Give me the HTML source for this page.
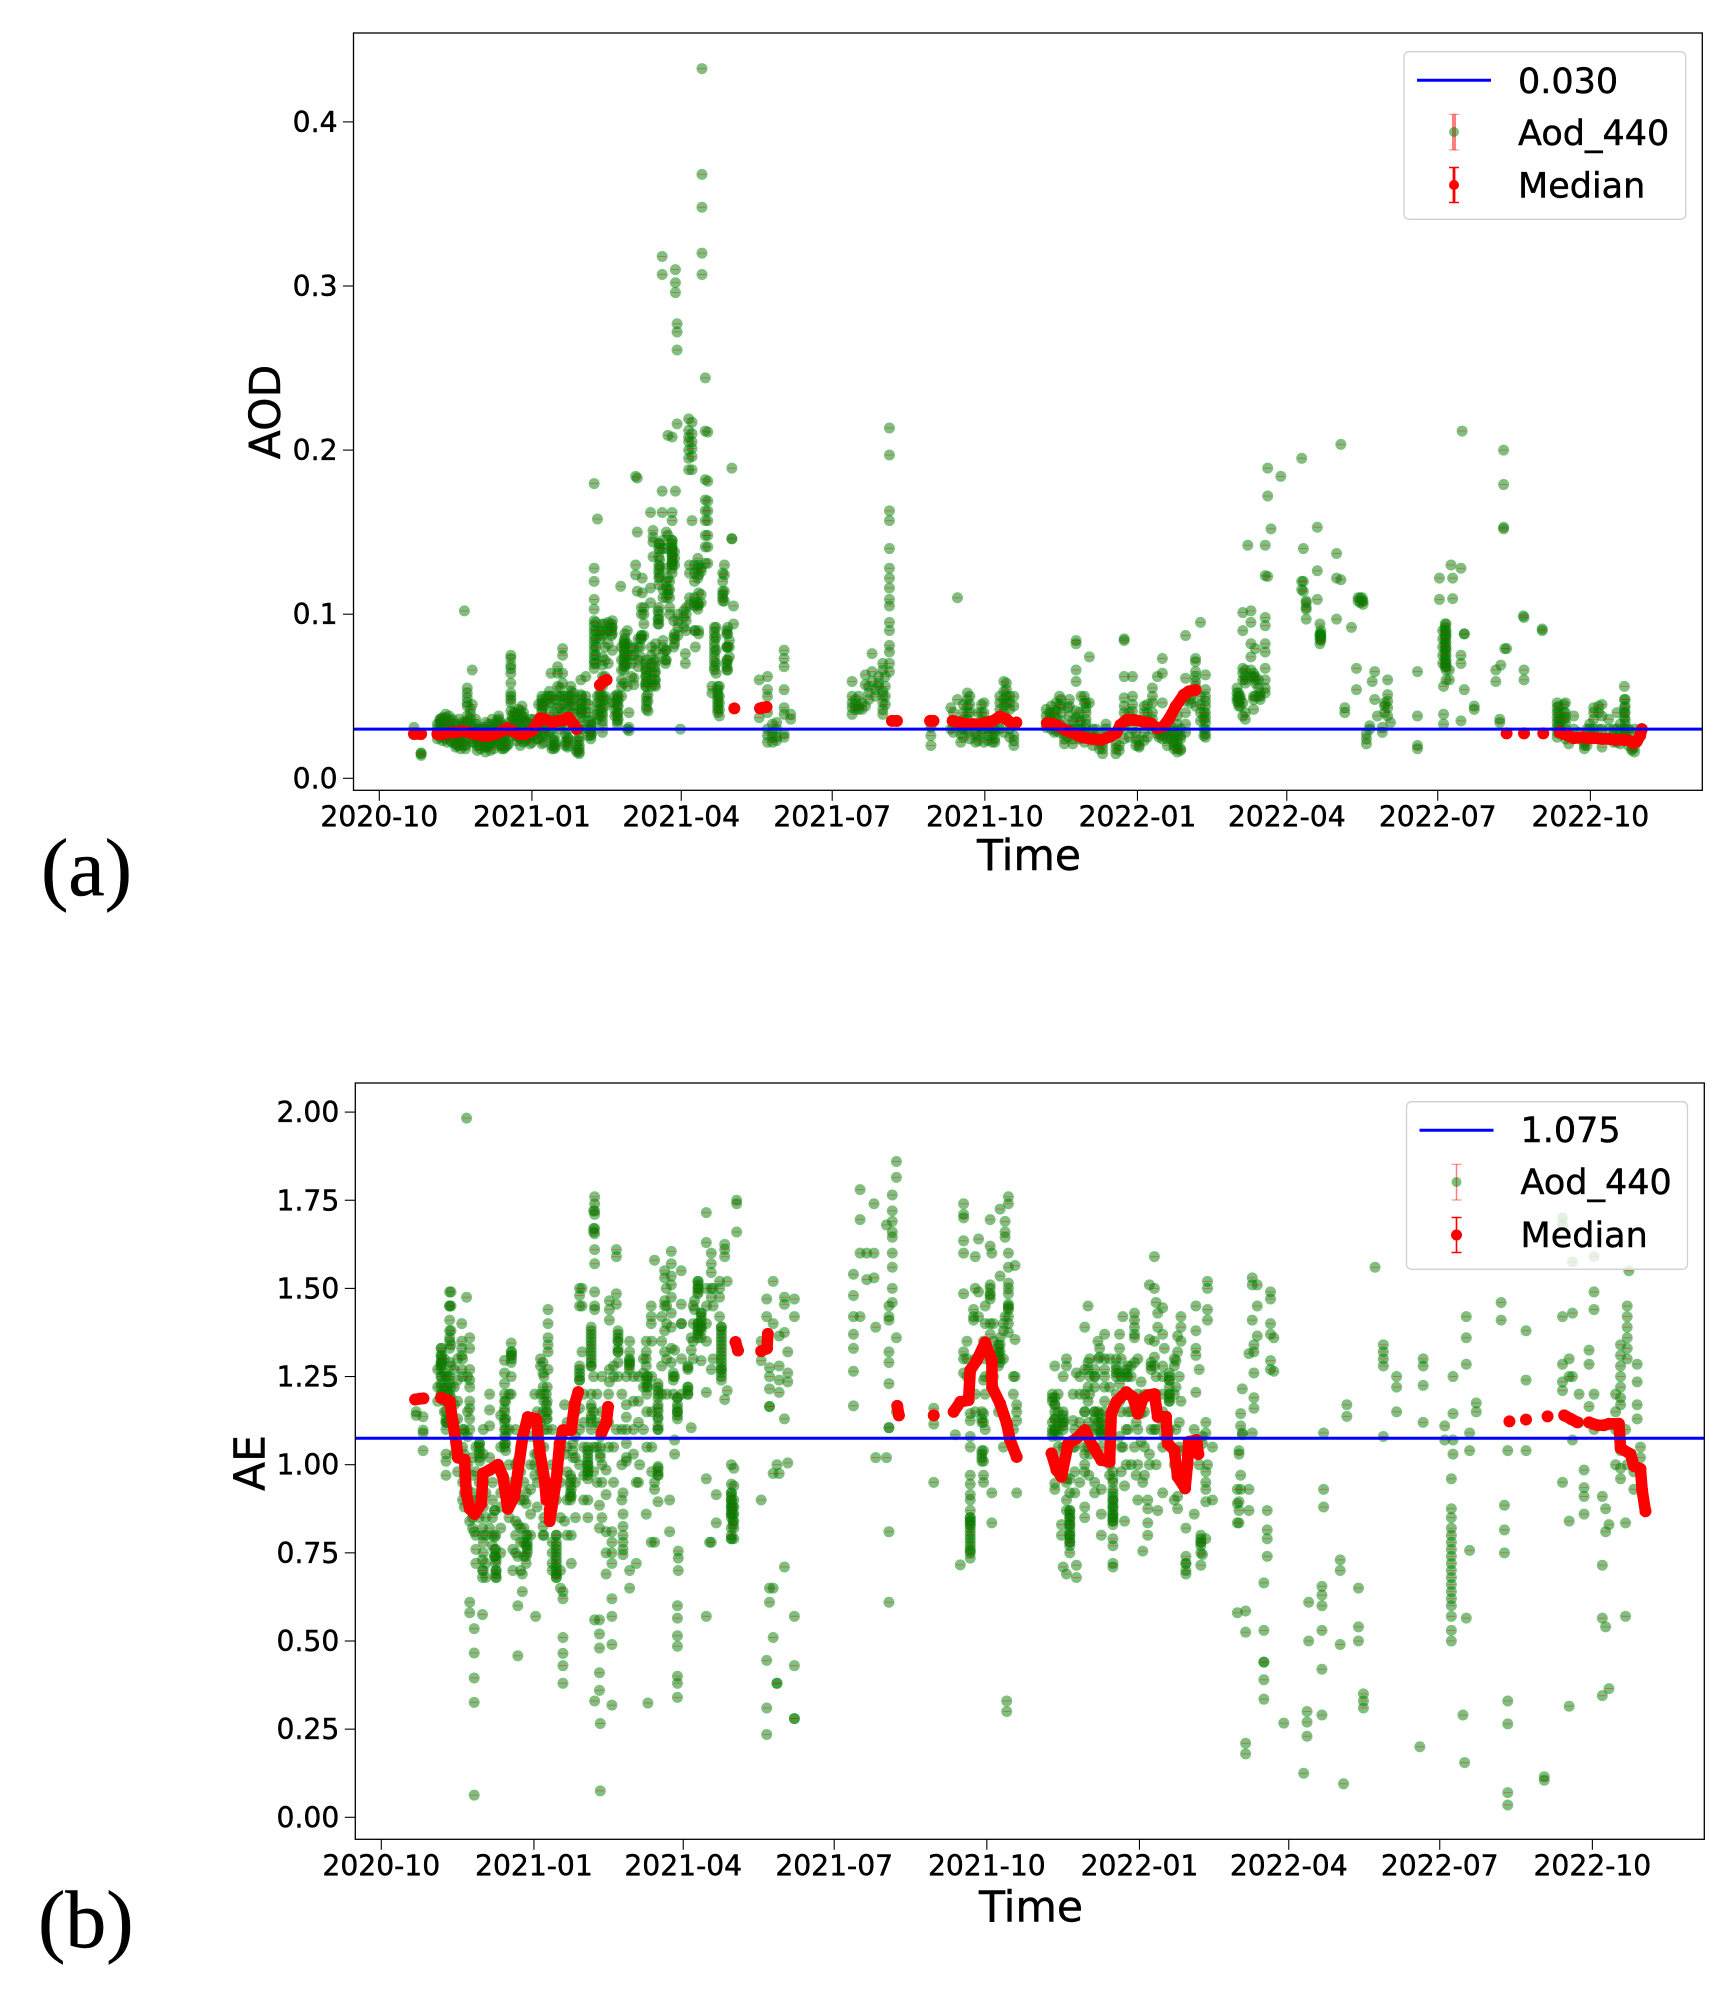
<!DOCTYPE html>
<html lang="en">
<head>
<meta charset="utf-8">
<title>AOD and AE time series</title>
<style>
html,body{margin:0;padding:0;background:#fff;}
svg{display:block;font-family:"DejaVu Sans","Liberation Sans",sans-serif;}
svg text{stroke:#000;stroke-width:0.45px;}
.serif{font-family:"Liberation Serif","DejaVu Serif",serif;}
</style>
</head>
<body>
<svg id="figure" xmlns="http://www.w3.org/2000/svg" width="1733" height="1995" viewBox="0 0 1733 1995">
  <rect x="0" y="0" width="1733" height="1995" fill="#fff"/>
  <g id="panel-a"></g>
  <g id="panel-b"></g>

  <text class="serif" x="41" y="895" font-size="82">(a)</text>
  <text class="serif" x="38" y="1947" font-size="82">(b)</text>
  <text x="1029" y="870" font-size="42.5" text-anchor="middle">Time</text>
  <text x="1031" y="1921.5" font-size="42.5" text-anchor="middle">Time</text>
  <text transform="translate(280 412) rotate(-90)" font-size="42.5" text-anchor="middle">AOD</text>
  <text transform="translate(264.5 1463) rotate(-90)" font-size="42.5" text-anchor="middle">AE</text>

  <g>
    <rect x="1404" y="51.7" width="281.7" height="167.6" rx="5" fill="#fff" fill-opacity="0.8" stroke="#d0d0d0" stroke-width="1.3"/>
    <line x1="1417" x2="1491" y1="80.3" y2="80.3" stroke="#0000ff" stroke-width="3"/>
    <text x="1518" y="93" font-size="35">0.030</text>
    <g>
      <line x1="1454" x2="1454" y1="114.3" y2="150" stroke="#ff0000" stroke-opacity="0.5" stroke-width="4"/>
      <line x1="1449" x2="1459" y1="114.3" y2="114.3" stroke="#ff0000" stroke-opacity="0.5" stroke-width="1"/>
      <line x1="1449" x2="1459" y1="150" y2="150" stroke="#ff0000" stroke-opacity="0.5" stroke-width="1"/>
      <circle cx="1454" cy="132" r="5" fill="#008000" fill-opacity="0.5"/>
    </g>
    <text x="1518" y="145" font-size="35">Aod_440</text>
    <g>
      <line x1="1454" x2="1454" y1="167" y2="203" stroke="#ff0000" stroke-width="2.8"/>
      <line x1="1449" x2="1459" y1="167.5" y2="167.5" stroke="#ff0000" stroke-width="1.5"/>
      <line x1="1449" x2="1459" y1="202.5" y2="202.5" stroke="#ff0000" stroke-width="1.5"/>
      <circle cx="1454" cy="185" r="5" fill="#ff0000"/>
    </g>
    <text x="1518" y="197.5" font-size="35">Median</text>
  </g>

  <g>
    <rect x="1406.5" y="1101.7" width="281" height="167.6" rx="5" fill="#fff" fill-opacity="0.8" stroke="#d0d0d0" stroke-width="1.3"/>
    <line x1="1419.5" x2="1493.5" y1="1130.3" y2="1130.3" stroke="#0000ff" stroke-width="3"/>
    <text x="1520.5" y="1142" font-size="35">1.075</text>
    <g>
      <line x1="1456.5" x2="1456.5" y1="1164.3" y2="1200" stroke="#ff0000" stroke-opacity="0.5" stroke-width="1.5"/>
      <line x1="1451.5" x2="1461.5" y1="1164.3" y2="1164.3" stroke="#ff0000" stroke-opacity="0.5" stroke-width="1"/>
      <line x1="1451.5" x2="1461.5" y1="1200" y2="1200" stroke="#ff0000" stroke-opacity="0.5" stroke-width="1"/>
      <circle cx="1456.5" cy="1182" r="5" fill="#008000" fill-opacity="0.5"/>
    </g>
    <text x="1520.5" y="1194" font-size="35">Aod_440</text>
    <g>
      <line x1="1456.5" x2="1456.5" y1="1217" y2="1253" stroke="#ff0000" stroke-width="1.6"/>
      <line x1="1451.5" x2="1461.5" y1="1217.5" y2="1217.5" stroke="#ff0000" stroke-width="1.5"/>
      <line x1="1451.5" x2="1461.5" y1="1252.5" y2="1252.5" stroke="#ff0000" stroke-width="1.5"/>
      <circle cx="1456.5" cy="1235" r="5.5" fill="#ff0000"/>
    </g>
    <text x="1520.5" y="1247" font-size="35">Median</text>
  </g>
</svg>

<script>
// ---- shared axis data ----
const xTickDays = [0, 92, 182, 273, 365, 457, 547, 638, 730];
const xTickLabels = ['2020-10','2021-01','2021-04','2021-07','2021-10','2022-01','2022-04','2022-07','2022-10'];
const aodTickValues = [0, 0.1, 0.2, 0.3, 0.4];
const aodTickLabels = ['0.0','0.1','0.2','0.3','0.4'];
const aeTickValues = [0, 0.25, 0.5, 0.75, 1, 1.25, 1.5, 1.75, 2];
const aeTickLabels = ['0.00','0.25','0.50','0.75','1.00','1.25','1.50','1.75','2.00'];
const aodThreshold = [0.03];
const aeThreshold = [1.075];

// ---- AOD readings: each row is [day since 2020-10-01, value, value, ...] ----
const aodWinter2020 = [
[20.9,.031,.027],[25.2,.015,.014,.0155],
[35,.024,.027,.03,.033],[36.5,.025,.029,.034,.036],[38,.023,.027,.031,.035,.037],[40,.024,.028,.033,.037,.039],[42,.026,.03,.034,.038],[44,.022,.026,.03,.036],[46,.019,.021,.024,.029,.033],[48,.02,.023,.027,.032,.036],[50,.022,.026,.03,.034],[52,.018,.02,.024,.029,.034],
[51.3,.102],[53,.055,.052,.049,.046,.044,.038,.035],[56,.066,.045,.028,.032,.022],[58,.025,.029,.033,.036],[60,.02,.023,.026,.03],[62,.023,.027,.031],[64,.016,.019,.022,.03,.034],[66,.02,.024,.028,.033],[68,.021,.024,.03,.036],[70,.022,.026,.03,.033],[72,.023,.027,.032,.036,.038],[74,.018,.02,.024,.03],[76,.019,.022,.026,.03],[78,.021,.025,.03,.034],
[79.3,.075,.073,.069,.067,.064,.058,.052,.05,.048,.046,.041],[81,.028,.032,.036,.04],[83,.023,.027,.033,.038],[85,.02,.024,.03,.036,.041],[87,.022,.026,.031,.035,.04,.037],[89,.024,.029,.034],[91,.021,.025,.03,.036],[93,.026,.03,.033,.036],[95,.024,.028,.031],
[98,.05,.048,.046,.044,.042,.04,.037,.033,.025,.021],[100,.026,.03,.035],[102.5,.053,.05,.046,.04,.033,.028],[103.5,.064],[105.5,.025,.023,.02,.018,.04,.036],[107.5,.068,.064,.056,.05,.043,.037,.032],[110.5,.079,.075,.064,.058,.05,.045,.04,.034],[113.5,.025,.023,.019,.03],[115.5,.056,.053,.05,.047,.044,.04,.036],[120.5,.025,.023,.02,.018,.015,.016,.03],[121.5,.06,.051,.048,.045,.042,.04,.037,.034],[124.5,.062,.05,.046,.04],[127.5,.035,.032,.03,.028,.026,.024],
[129.5,.1796,.128,.12,.109,.103,.096,.093,.09,.087,.084,.081,.078,.075,.072,.07,.067],[131.5,.158,.05,.046,.042,.039,.036],[134.5,.094,.09,.087,.074,.069,.062,.056,.05,.047,.043,.04,.038,.035,.032,.028]
];
const aodDenseWinter2020 = [
[37,.03,.033,.036],[39,.026,.03,.034],[41,.022,.027,.03],[43,.023,.03,.035],[47,.02,.025,.03],[49,.018,.023],[51,.02,.028,.032],[55,.024,.03,.036,.039,.042],[57,.022,.026,.03],[59,.017,.02,.024],[61,.018,.025,.03],[63,.02,.03],[65,.019,.025],[67,.017,.022,.032],[69,.018,.024,.03],[71,.026,.03,.035],[73,.02,.028,.034],[75,.018,.025,.032],[77,.02,.028],[80,.03,.035,.038],[82,.026,.033,.04],[84,.025,.034,.042],[86,.027,.038,.044],[88,.023,.034],[90,.026,.03],[92,.022,.028],[94,.028,.032],[96,.024,.03,.036,.045],[99,.046,.044,.034,.028,.022],[101,.05,.048,.036],[104,.05,.046,.03,.024,.02,.018],[106,.021,.019,.048],[109,.055,.05,.043,.03],[112,.05,.046,.04,.027,.022,.02],[114,.05,.046,.024,.02],[117,.052,.048,.044,.04],[119,.023,.02,.017,.016],[122,.05,.046,.042,.04,.03],[126,.045,.04,.035,.03,.026],[128,.033,.03,.027]
];
const aodSpring2021 = [
[140.5,.096,.092,.088,.078,.046],[143.5,.051,.048,.044,.04,.038,.035,.033],[145.5,.117],[147.5,.084,.082,.078,.075,.072,.069,.066,.058],[149.5,.09],[150.5,.04,.031,.029],[153.5,.079,.075,.061,.057],[154.5,.13,.124,.184],[155.5,.183,.15,.114],[157.5,.085,.08,.074],[158.5,.122,.113],[159.5,.104,.1,.094,.087],[160.5,.07,.066,.062,.058,.056],[162,.051,.047,.041],[163.5,.116,.107,.162],[165,.151,.147,.144,.135],[166.5,.082,.078,.071,.065,.06,.056],[168,.102,.097,.094],[169,.143,.139,.133,.129,.123],[170.5,.318,.307,.175,.162],[172.5,.078,.072,.07],[174,.209,.148,.122,.115,.112],[176.5,.208,.162,.157,.145,.14,.136,.132,.13],[177.5,.096,.086,.08],[178.5,.175,.31,.302,.296],[179.5,.216,.277,.272,.261],[181.5,.03],[183.5,.102,.098,.092],[184.5,.076,.07],[186.5,.219,.212,.208,.205,.2,.195,.188],[188.5,.217,.21,.205,.201,.196,.188,.157],[190.5,.08,.09],[192.5,.13,.124,.113,.106,.09,.088],[194.5,.4325,.368,.348,.320,.307],[196.5,.244,.2116,.182,.1696,.163,.157,.148,.141,.131],[198,.211,.181,.169,.163,.157,.148,.141,.131],[203,.092,.086,.078,.07,.064],[200.5,.056,.052],[205,.056,.05,.046,.042,.038],[208,.13,.124,.114,.108],[210,.092,.088,.08,.072,.066],[212.5,.189,.146,.146],[213.5,.105,.094],
[229,.06,.037],[234,.062,.054,.05,.04,.03,.026,.022],[237,.033,.028,.025,.022],[239.5,.034,.03,.025,.023],[244,.078,.073,.068,.054,.043,.039,.027,.025],[248,.039,.036]
];
const aodDenseSpring2021 = [
[130.5,.095,.09,.085,.08,.075,.07],[133,.052,.05,.046,.042,.038,.09,.085],[136,.094,.088,.08,.072,.062,.05,.048,.044],[138,.095,.09,.082,.07],[140,.094,.092,.09,.087],[142,.05,.046,.042,.038],[144,.05,.047,.044,.04,.036],[146,.08,.072,.066,.06,.056,.05],[148,.088,.085,.082,.08,.077,.074,.07,.068],[149.5,.082,.075,.07,.056,.03],[152,.08,.075,.07,.062],[156,.085,.08,.072,.068],[158,.104,.1,.087,.087,.085],[161,.072,.068,.065,.062,.059,.056,.05,.047,.044,.042],[164,.08,.075,.07,.065,.06,.056],[166,.072,.068,.064,.06,.057],[168.5,.143,.14,.135,.13,.127,.125,.122,.118,.104,.1,.097,.094],[171,.145,.14,.115,.11,.084,.08,.076],[173,.15,.14,.128,.12,.116,.11,.078,.072],[175,.12,.115,.11,.104,.1],[176.5,.145,.143,.141,.139,.137,.135,.133,.131,.128,.125],[178,.088,.085,.082,.138,.134,.13],[180,.1,.096,.092,.087],[185,.104,.1,.096,.09],[187,.13,.125,.11,.106],[190,.13,.125,.12,.11,.107,.105,.09],[192,.134,.128,.122,.107,.105,.103],[194,.128,.126,.112,.107],[202,.092,.089,.086,.083,.08,.077,.074,.071,.068,.066],[204,.056,.054,.052,.05,.048,.046,.044,.042,.04],[207,.125,.12,.114,.112,.11,.108],[209.5,.09,.088,.08,.08,.072,.07,.068,.066],[211,.084,.08,.074]
];
const aodSummer2021 = [
[285,.059,.05,.046,.043,.039],[287,.048,.045,.042],[289,.05,.042,.044],[291,.046,.042],[293,.063,.057,.044],[295,.048,.056,.052],[297,.076,.065,.059],[299,.05,.054],[301,.056,.058,.062],[303.5,.053,.05,.046,.042,.039,.066,.07],[305,.045,.05,.056,.062],[307.5,.2135,.197,.163,.157,.14,.128,.122,.116,.109,.105,.095,.09,.081,.077,.07,.065],
[332.5,.031,.026,.02],[344.5,.043,.03],[348.5,.11,.048],[350.5,.031,.022,.027],[354.5,.052,.048,.044,.04,.036,.03],[359.5,.022,.027,.033],[364.5,.046,.04,.03,.022,.034],[369.5,.03,.026,.022],[376.5,.059,.053,.048,.044,.04,.028],[382.5,.05,.044,.026,.02,.023]
];
const aodDenseAutumn2021 = [
[346,.04,.035,.032,.028],[352,.045,.04,.036,.03,.025],[356,.05,.045,.04,.028,.024],[361,.04,.032,.026,.023],[363,.045,.04,.035,.028],[367,.035,.03,.026,.023],[371,.03,.028,.024,.022],[374,.05,.046,.042,.038,.034,.03],[378,.058,.054,.05,.046,.036],[380,.05,.046,.042,.03,.025]
];
const aodWinter2021 = [
[402,.042,.038,.034,.031],[405,.044,.04,.036,.03],[408,.046,.041,.037,.032,.029],[411,.048,.044,.04,.035,.03],[413,.027,.024,.021],[416,.048,.044,.038,.032,.028],[420,.084,.082,.066,.059,.041,.037,.03],[423,.05,.035,.03,.027],[426,.046,.043,.04,.036,.033,.03,.026],[428,.074,.046],[432,.03,.027,.024],[436,.021,.018,.015],[438,.033,.03,.027],[444,.021,.018,.015],[449,.085,.084,.062,.049,.044,.04,.035,.03,.024],[454,.062,.05,.045,.041,.036,.03],[458,.023,.02,.019],[461,.044,.04,.035,.028,.023],[466,.055,.05,.046,.04,.036,.03],[469,.062,.03,.027],[472,.073,.064,.046,.03,.026,.024],[477,.032,.029,.026,.024],[481,.038,.033,.029,.026,.023,.02,.018,.016],[486,.087,.061,.047,.04,.033,.028],[492,.073,.071,.065,.062,.059,.056,.044],[495,.095,.05,.045,.04,.035],[498,.063,.054,.05,.047,.044,.04,.037,.034,.03,.027,.025]
];
const aodDenseWinter2021 = [
[404,.04,.036,.034],[407,.04,.034,.028],[410,.05,.045,.033,.028],[415,.043,.03,.025],[418,.035,.03,.024,.021],[422,.04,.035,.03,.024],[425,.05,.046,.028,.022],[430,.03,.025,.02],[434,.022,.018],[446,.02,.017],[452,.04,.035,.025],[456,.028,.024,.02],[463,.045,.04,.035,.025],[470,.03,.028,.025],[475,.03,.027,.024,.02],[479,.026,.022,.02,.018],[483,.03,.026,.024,.018,.017],[489,.05,.048,.046],[497,.04,.036,.03,.026]
];
const aodSpring2022 = [
[517,.055,.049,.047,.052],[519,.044,.048,.05],[520.5,.101,.09,.067,.064,.06,.046,.038],[523.5,.142],[525.4,.102,.095,.082,.074,.066,.062],[528,.079,.058,.05,.062,.06],[531,.05,.048,.052],[534,.098,.093,.082,.077,.067,.06,.055,.052,.142,.1235],[535.5,.123,.189,.172],[537.5,.152],[543.4,.184],[556,.12,.115,.195],[557,.14,.12,.114],[558.7,.108,.104,.107,.103,.097],[565.4,.153,.1265,.109],[567,.094,.088,.087,.085,.082],[577,.137,.122,.097],[579.6,.2035,.121],[582,.043,.04],[586,.092],[589,.067,.054],[591.3,.11,.107],[592.5,.11,.108],[595,.027,.021,.024],[597,.032,.03],[598.5,.059],[600,.065,.048],[601.6,.038],[604.6,.031,.028],[607.8,.06,.051,.047,.043,.038],[609.5,.034],[625.8,.065,.038,.02,.018],
[639,.122,.109],[641.5,.056,.039,.033],[642.5,.094,.092,.09,.087,.085,.082,.079,.076,.073,.07,.068],[645,.066,.06],[646,.13],[647,.122,.1095],[652,.075,.07,.035,.128],[652.7,.2116],[654,.088,.088,.054],[660,.044,.042],[673,.066,.059],[675.4,.036,.034],[676,.069],[677.7,.2,.179,.153,.152],[678.4,.079],[679.5,.079],[689.6,.099],[690,.066,.06,.098],[701,.091,.09],
[710,.046,.043,.04,.037,.034,.031,.028,.025],[712,.035,.03,.027],[715,.046,.04,.037,.034,.03,.024],[717,.021,.025],[720,.038,.03],[723,.028,.024],[726.4,.024,.022,.02,.018],[729.6,.033,.03,.027,.024],[732,.043,.04,.036,.03,.026],[737,.045,.038,.03,.019],[741,.036,.03,.024],[744,.03,.026,.022],[748,.033,.029,.021],[750.5,.056,.048,.043,.04,.037,.03,.027],[753,.03,.024,.02],[756.6,.019,.016,.022,.03]
];
const aodDenseSpring2022 = [
[518,.052,.05,.048,.046,.044],[522,.066,.062,.06,.058,.04,.036],[527,.064,.062,.05,.048,.042],[530,.06,.055,.05],[567.5,.09,.088,.087,.086,.085,.084],[590,.11,.108],[593,.108,.106],[606,.046,.044,.04],[643,.094,.09,.088,.086,.083,.08,.078,.075,.072,.07,.068,.066,.06],[641,.09,.085,.08,.075,.07],[711,.044,.04,.036,.032,.028],[714,.045,.04,.036],[728,.03,.024,.02],[735,.044,.04,.03,.024],[746,.04,.03,.025,.022],[751,.048,.044,.04,.036,.033,.03,.028],[755,.028,.022,.018,.017]
];

// ---- AOD median readings (day and value listed in parallel) ----
const aodMedianDays = [20.9,25.2,35,38,42,46,50,54,58,62,66,70,74,77,80,84,88,92,95,97,100,104,108,111,114,117,119,133,135,137,214,229.5,231,233.4,309,312,332,334,345.6,350,354,358,362,366,370,374,378,381.6,384,402.4,405,409,413.5,418.4,423.3,429.5,435.6,440.5,444.2,446.7,450.4,455.3,460.2,465,468.8,472.5,476.2,480,484.8,488,492,679.5,690,701.6,711.6,714,717,720,725.6,729,733,737,741,745,749,753,756,758,760,761];
const aodMedianValues = [.027,.027,.027,.027,.028,.028,.029,.028,.027,.026,.026,.027,.029,.0305,.029,.027,.027,.029,.033,.0366,.036,.034,.035,.0355,.037,.033,.03,.0568,.0588,.06,.0426,.0426,.043,.0435,.035,.035,.035,.035,.035,.034,.033,.033,.033,.034,.035,.0376,.036,.033,.034,.0335,.0335,.032,.0295,.0275,.025,.024,.0235,.0254,.0275,.0325,.0355,.0355,.0345,.0335,.0305,.0315,.0365,.0437,.0508,.053,.0538,.0274,.0274,.0274,.028,.027,.026,.0245,.025,.0245,.0245,.024,.024,.0235,.0235,.023,.0215,.0225,.026,.03,.0335];

// ---- AE readings: each row is [day since 2020-10-01, value, value, ...] ----
const aeWinter2020 = [
[21,1.15,1.14],[25.2,1.136,1.098,1.09,1.04],
[36,1.33,1.31,1.29,1.285,1.28,1.27,1.25,1.23,1.22,1.2],[39,1.25,1.2,1.18,1.15,1.13,1.12,1.1,1.12,1.03,1.01,.97],[41.2,1.49,1.45,1.45,1.41,1.38,1.36,1.35,1.33,1.29,1.25,1.23,1.2],[48.5,1.40,1.35,1.33,1.31,1.27],[50,1.1,1.09,1.03,1.01,.97,.92,.88],[51.4,1.983,1.475],[53.3,1.36,1.33,1.27,1.24,1.22,1.18,1.16,1.13,1.1,.61,.58,.84],[56,.063,.535,.466,.395,.326,.81],[59.3,1.06,1.04,1.02,1.01],[61,.575,.82,.8,.73,.7,.68],[65.3,1.2,1.155,1.11,1.02,.82],[68.3,.87,.87,.795,.76,.74,.74],[69.3,.73,.7,.68],[74.3,1.296,1.26,1.23,1.2,1.18,1.16,1.15,1.13,1.12,1.1,1.08,1.06,1.05],[78.3,1.345,1.32,1.31,1.29,1.25,1.2],[79.3,.76,.7],[82.3,1.01,.83,.74,.6,.458],[85,.69,.64],[87.3,.92,.89,.8,.77,.74,.72],[92.5,1.2,1.13,1.03,1.0,.97],[93,.57],[97.5,1.29,1.26,1.22,1.15,.825,.8],[99.5,1.2,1.17,1.15,1.13],[100.5,1.44,1.4,1.36,1.34,1.32,1.27],[105.5,.77,.75,.73,.71,.69,.68,.8],[109.5,.64,.62,.51,.465,.43,.38],[110.5,1.17,1.03,.84],[114.5,.96,.93,.91,.8,.72],[115.5,1.06,1.04,1.02],[119.5,1.5,1.48,1.45,1.27,1.24,1.16],[121,1.32,1.5,1.45],[124.5,1.05,1.03,1.0,.98,.97,.9,.85]
];
const aeDenseWinter2020 = [
[34,1.27,1.22,1.18],[36.3,1.33,1.31,1.3,1.29,1.25,1.2],[38,1.3,1.26,1.22,1.18,1.15],[40,1.25,1.22,1.2,1.18,1.12],[42,1.49,1.45,1.38,1.34,1.28,1.22,1.19,1.15],[44,1.27,1.22,1.17,1.12,1.08,1.03],[46,1.3,1.24,1.18,1.13,.98],[49,1.3,1.25,1.1,1.05,.95,.9],[52,1.25,1.15,1.08,1.0,.93],[55,1.02,.97,.92,.85,.82],[57,1.05,.98,.9,.8,.76,.72],[59,1.06,1.05,1.03,.95,.9,.85],[61.5,1.1,1.03,.95,.88,.78,.75,.7],[63,.92,.85,.8,.72,.68],[67,.95,.9,.85,.8,.77],[69,.8,.76,.74,.72,.7,.69,.68],[72,1.14,1.05,.98,.92,.88,.82,.75],[75,1.18,1.13,1.1,1.08,1.06,1.04],[77,1.2,1.1,1.0,.92,.85],[78.5,1.32,1.31,1.3,.95,.9],[81,1.1,1.0,.95,.84,.8,.75],[84,1.05,.98,.9,.82,.78,.7],[86,.95,.9,.82,.78,.74],[88,.8,.78,.77,.76,.75],[90,1.08,1.0,.93,.86,.8],[94,1.15,1.08,1.03,.95,.88],[96,1.3,1.28,1.2,1.12,1.05,.98],[98,1.25,1.2,1.18,1.1,1.05,.85,.8],[100,1.22,1.18,1.15,1.13,1.1,.95,.9],[103,.78,.75,.72,.7,1.1,1.0],[105.5,.8,.78,.76,.74,.72,.7,.69,.68,.9],[108,1.05,.95,.85,.7,.65],[112,1.12,1.05,.98,.9,.8],[114,.97,.95,.94,.92,.91,.9],[117,1.15,1.08,1.02,.95,.85],[119.5,1.28,1.26,1.25,1.24,1.1,1.0],[122,1.2,1.12,1.05,.97,.9],[124.5,1.04,1.02,1.01,1.0,.99,.98,.96]
];
const aeSpring2021 = [
[126.5,1.39,1.37,1.35,1.33,1.31,1.29,1.28,1.2,1.17,1.13,1.12],[128.6,1.76,1.74,1.72,1.71,1.67,1.655,1.61,1.57,1.49,1.45,1.44,.56,.33],[131.5,.885,.82,.56,.52,.48,.41,.36],[132,.075,.266,1.11,1.08,1.05,1.03,1.02],[135.5,.985,.915,.81,.75,.69],[137.5,1.465,1.44,1.41,1.27,1.235],[139,.49,.62,.57,.318,.81,.78,.75,.72],[141.7,1.61,1.59,1.485,1.455,1.1],[142.7,1.38,1.35,1.32,1.29,1.25],[145.7,.92,.86,.825,.8,.78,.76,.745],[147.7,1.25,1.17,1.135,1.1,1.06,1.02,1.01],[149.7,1.35,1.32,1.295,1.285,.7,.65],[153.7,.95,.72],[155.7,1.0],[159.7,.86,1.35,1.32,1.3,1.28],[160.7,1.25,1.22,.324],[162.7,1.45,1.42,1.4,.78],[164.7,1.58,.78,.95,.93],[166.8,1.22,1.2,1.16,1.135,1.1,1.1,.995,.97,.895],[170.8,1.55,1.53,1.465,1.45,1.38,1.32],[171.8,1.5],[173.8,.81,.9],[174.8,1.605,1.57,1.535,1.51,1.475,1.43,1.39,1.33,1.29],[176.8,1.325,1.25,1.07,1.03],[178.5,1.19,1.15,1.13,.6,.565,.515,.485,.4,.38,.34],[180.8,1.55,1.455,1.4],[179,.755,.735,.7],[184.8,1.275,1.22,1.2],[186.8,1.325,1.36,1.105],[188.8,1.465,1.44],[190.8,1.52,1.5,1.485,1.4,1.38,1.36],[192.8,1.43,1.39,1.295],[195.9,1.715,1.63,1.5,1.205,.96,.57],[198.9,1.6,1.57,1.545,1.5,1.475,1.27,.78],[197.9,.78],[201.9,.915,.835],[203.9,1.52,1.5,1.475,1.42],[205,1.39,1.37,1.35,1.32,1.3,1.28,1.27,1.25,1.24],[207,1.625,1.61,1.59,1.185],[208.5,1.52,1.21],[211,1.0,.945,.92,.9,.88,.86,.82,.79],[212.5,.94,.9,.88,.86,.84,.82,.79,.99],[214.2,1.75,1.74,1.66],[229,1.35,1.295,.9],[232.3,1.47,1.42,.445,.31,.235],[234,1.275,1.25,1.215,1.165,1.165,.61,.65],[236.2,1.52,1.4,.65,.51,.975],[238.5,.38,.38,1.0],[239.8,1.28,1.24,1.205,.975,1.365],[243,1.475,1.455,1.375,1.13,.71],[245,1.32,1.26,1.235,1.005],[249,1.47,1.42,.43,.28,.28,.57]
];
const aeDenseSpring2021 = [
[126.5,1.38,1.36,1.34,1.32,1.3,1.28,1.16,1.14,1.1],[128,1.72,1.67,1.66,1.25,1.15,1.05,.98],[130,1.2,1.12,1.05,.95],[133,1.25,1.15,1.0,.95,.85],[137,1.2,1.12,1.05],[140,1.28,1.25,1.05,.95],[142.7,1.37,1.36,1.35,1.33,1.32],[145,1.2,1.1,1.0,.9],[149.5,1.3,1.29,1.28,1.27],[152,1.25,1.18,1.1,1.03],[155,1.25,1.18,1.12,.95],[158,1.3,1.26,1.22,1.1],[160,1.25,1.24,1.23,1.22,1.2,1.15,1.05],[163,1.35,1.25,1.15,1.05,.98],[166.8,1.23,1.21,1.19,1.17,1.15,1.13,1.11,.99,.98,.97],[169,1.42,1.35,1.28,1.2],[172,1.45,1.4,1.3,1.2],[176,1.26,1.25,1.24,1.2],[178.5,1.19,1.17,1.16,1.15,1.14],[181,1.4,1.3,1.2],[184.8,1.28,1.27,1.22,1.21,1.2],[188,1.45,1.4,1.35,1.3],[191,1.52,1.51,1.5,1.49,1.4,1.39,1.38,1.37],[192.8,1.43,1.42,1.41,1.4,1.39,1.38,1.36],[196,1.45,1.4,1.35],[200,1.5,1.45,1.3],[205,1.39,1.38,1.36,1.34,1.33,1.31,1.29,1.27,1.26],[211,.92,.91,.9,.89,.88,.87,.86,.85,.79,.8],[212,.88,.86,.84,.83]
];
const aeSummer2021 = [
[284.6,1.54,1.48,1.42,1.37,1.33,1.265,1.167],[288.6,1.78,1.695,1.6,1.42],[292.6,1.6,1.525],[297,1.6,1.53,1.74],[298,1.02,1.39],[304.5,1.68,1.02],[306,1.45,1.42,1.41,1.32,1.29,1.23,1.105,1.105,.81,.61],[308,1.765,1.72,1.69,1.66,1.645,1.6,1.56,1.5,1.46],[310.5,1.86,1.815,1.36,1.15],[333,1.16,1.115,.95]
];
const aeAutumn2021 = [
[346,1.085],[349,.716],[351,1.74,1.71,1.7,1.635,1.6,1.485,1.26,1.32,1.3],[355,1.145,1.125,1.08,1.05,.97,.945,.915,.9,.87,.85,.84,.83,.81,.79,.755,.735],[357,1.44,1.42,1.41],[360,1.64,1.49,1.42],[358,1.59,1.5],[363,1.35,1.24,1.145,1.12,1.04,1.01,.97,.95],[367,1.695,1.62,1.51,1.485,1.4,1.37],[368,.92,.835,1.6],[373,1.725,1.535,1.36,1.34,1.32,1.3,1.29],[376,1.69,1.66,1.645,1.42],[378,1.76,1.74,1.6,1.56,1.515,1.5,1.485,1.455,1.445,1.375],[382,1.565,1.355,1.25],[383,1.17,1.15,1.125,.92],[377,.33,.3]
];
const aeDenseAutumn2021 = [
[353,1.35,1.3,1.25],[355,.85,.84,.83,.82,.8,.78,.77,.76,.75],[358,1.3,1.2,1.15],[362,1.04,1.03,1.02,1.01,1.15,1.13,1.12],[364,1.45,1.4,1.3,1.25,1.2,1.1],[367,1.5,1.48,1.47,1.3,1.25],[369,1.4,1.35,1.25],[372,1.34,1.33,1.32,1.31,1.3,1.28,1.15],[375,1.4,1.38,1.3,1.05],[378,1.45,1.44,1.42,1.4],[381,1.25,1.2,1.1]
];
const aeWinter2021 = [
[406,1.28,1.19,1.17,1.13,1.1,1.09,.947,.93],[411,1.25,1.15,1.12,.71,1.05,1.1],[408,1.2,1.15,1.1,1.02,.98],[413,.69,.9,.87,1.3,1.28],[415,.96,.92,.87,.85,.83,.8,.78,.77,.75],[410,.83,.8],[417,1.125,1.2,1.05],[419,.715,.68,1.26],[426,1.45,1.29,1.22,1.18,1.27,1.05],[424,1.39,1.27,1.03,1.0,.88,.85,1.15,1.1],[426.5,.97,1.12],[430,1.27,1.25,1.22,1.15,1.13],[433,1.33,1.305,1.145,1.12,1.1,1.09],[436,1.37,1.27,1.22,1.15,1.1],[434,.93,.8,.86],[441,.92,.9,.88,.86,.85,.84,.79,.77,.72,.71,.98,.96],[445,1.37,1.33,1.26,1.23,1.18,1.08],[448,.84,.94],[447,1.42,1.05],[450,1.28,1.25,1.15,1.1],[454,1.43,1.41,1.39,1.37,1.36,1.29,1.05],[455,.97,1.12],[458,1.235,1.145,1.065],[459,.755,.95],[462,.9,.875,.835,.8],[463,1.51,1.355,1.03,1.0],[466,1.59,1.5,1.35,1.305,1.28,1.1],[467,1.46],[468,1.43,1.39,.87],[471,1.445,1.37,.92,1.12],[472,1.33,1.08],[475,1.26,1.24,1.22,1.2,1.18],[479,1.295,1.22,1.1],[480,1.365,1.32,.91,.875],[482,1.42,1.39,1.35,1.18,1.04],[485,.82,.72,.69],[490,.86,1.1],[491,1.45,1.38,1.33,1.31,1.205],[493,1.27,1.0],[494,.8,.78,.715],[495,.745],[497,1.12,1.09,.98,.95,.93,.895,.79],[498,1.52,1.5,1.44,1.41,1.0],[501,1.05,.9]
];
const aeDenseWinter2021 = [
[404.5,1.2,1.19,1.18,1.12,1.1,1.09,1.08],[406,1.17,1.15,1.13,1.1],[408,1.12,1.08,1.05],[411,1.14,1.13,1.12,1.11],[413,1.05,.96,.95],[415,.87,.86,.85,.84,.83,.82,.81,.8,.79,.78],[418,1.1,1.05,.98,.92],[421,1.25,1.2,1.12,1.08,.95],[424,1.2,1.15,1.1,1.05,.98],[427,1.3,1.25,1.2,1.1,1.03],[430,1.25,1.15,1.1,1.05,.95,.92],[432,1.35,1.3,1.15,1.12],[434,1.13,1.12,1.1,1.09,1.08,1.05],[436,1.3,1.25,1.18],[439,1.3,1.22,1.1,1.0,.97],[441,.95,.93,.91,.9,.89,.88,.87,.86,.85,.84,.83],[443,1.3,1.28,1.27,1.26,1.25,1.2],[446,1.3,1.25,1.15,1.05,.98],[449,1.27,1.26,1.25,1.2,1.1,1.0],[452,1.28,1.25,1.15,1.0],[456,1.3,1.2,1.1,1.0,.9],[460,1.2,1.15,1.05,.97],[464,1.29,1.28,1.27,1.2,1.1],[467,1.25,1.2,1.1,1.0],[471,1.28,1.25,1.2,1.15,1.05],[475,1.25,1.24,1.2,1.19,1.18,1.1],[478,1.3,1.28,1.2,1.0,.9],[481,1.25,1.12,1.05],[485,.7,.72,.74],[495,1.08,1.06],[494,.79,.78,.77,.75]
];
const aeSpring2022 = [
[516,.835,.89,.93,.58],[517,1.04,1.03,.895,.87,.835],[518,.97,.93,1.145,1.11],[519,1.215,1.085,1.09],[521,.21,.18,.585,.525],[523,1.315,.93,.87],[525,1.53,1.51,1.41,1.09],[526,1.26,1.34,1.32,1.16,1.19],[528,1.51,1.45,1.365],[532,.44,.39,.335,.44,.53,.665],[534,.87,.815,.79,.74],[536,1.49,1.47,1.4,1.37,1.295,1.27],[538,1.36,1.265],[544,.267],[556,.125],[558,.3,.27,.23],[559,.5,.61],[567,.655,.63,.6,.53,.42,.29],[568,.93,.88,1.09],[578,.73,.7,.49],[580,.095],[582,1.17,1.137],[589,.65,.54,.5],[592,.35,.33,.31],[599,1.56],
[604,1.3,1.32,1.34,1.28,1.08],[612,1.25,1.22,1.15],[626,.2],[628,1.3,1.28,1.225,1.12],[641,1.11,1.07],[645,.875,.85,.82,.8,.78,.76,.74,.72,.7,.68,.66,.64,.62,.6,.57,.53,.5,.96],[646,1.25,1.145,1.07,1.03],[652,.29],[653,.155],[654,1.42,1.36,1.285,.565],[656,1.09,1.04,.757],[660,1.175,1.15],[675,1.46,1.41],[677,.885,.815,.75],[679,1.04,.33,.265,.07,.035],[690,1.38,1.24,1.04],[701,.115,.105]
];
const aeAutumn2022 = [
[712,1.42,1.285,1.235,1.21,.95,1.7,1.68],[716,.84,.315,1.3,1.25],[718,1.43,1.575,1.25,1.07],[722,1.2,1.12],[725,.985,.935,.91,.86],[728,1.285,1.325,1.165],[731,1.59,1.49,1.44,1.2,1.1],[736,.91,.715,.565,.345],[738,.81,.54,.875],[740,.83,.365],[744,1.2,1.15,1.1,1.0],[747,1.34,1.31,1.28,1.25,1.22,1.19,1.17,1.04,.99,.96],[750,.835,.57,1.1],[751,1.45,1.42,1.39,1.36,1.33,1.3,1.0],[752,1.55],[755,.93,.98],[757,1.285,1.235,1.17,1.13],[759,1.05,1.02,.98]
];

// ---- AE median readings (day and value listed in parallel) ----
const aeMedianDays = [20.4,23,25.4,36,41.2,43.2,45.2,46.2,50.2,51.2,53.3,56.3,60.3,61.3,65.3,70.3,73.3,76.3,80.3,83.3,85.3,88.3,93.4,95.4,98.4,99.5,102.5,101.5,101.5,105.5,107.5,109.5,114.5,116.6,118.7,132.7,135.7,136.7,213.5,215,229,232.5,233,311,312,333,345,349,354,355,359,364,368,368.2,373,377,379,383,404,407,410,414,419,424,429,434,439,440,443,449,453,456,459,462,466,468,473,474,478,480,484.5,486,486.2,486.7,491.5,492.5,680,690,703,713,717,721,728,733,737,740,746,747,753,755,759,760,762];
const aeMedianValues = [1.185,1.187,1.188,1.19,1.18,1.117,1.06,1.02,1.014,.92,.875,.86,.89,.975,.985,1.0,.966,.875,.91,1.014,1.08,1.135,1.13,1.04,.957,.9,.9,.872,.84,.957,1.06,1.098,1.098,1.173,1.206,1.09,1.12,1.164,1.348,1.324,1.322,1.33,1.371,1.167,1.14,1.14,1.15,1.178,1.183,1.268,1.296,1.347,1.296,1.22,1.173,1.117,1.07,1.022,1.032,.985,.966,1.06,1.074,1.098,1.051,1.013,1.008,1.145,1.178,1.206,1.192,1.145,1.187,1.197,1.2,1.136,1.136,1.06,1.041,.966,.933,1.004,1.027,1.065,1.07,1.03,1.123,1.128,1.137,1.14,1.13,1.12,1.12,1.112,1.112,1.116,1.116,1.047,1.03,.997,.988,.928,.868];

// ---- axis functions ----
const SVG_NS = 'http://www.w3.org/2000/svg';
const PX_PER_DAY = 1.659;
const aodFrame = {left:353.5, right:1702.3, top:33, bottom:790.3, x0:379.3, y0:778.3, pxPerUnit:1641, labelRight:337.5, labelBase:826.7};
const aeFrame  = {left:355.3, right:1704.3, top:1083, bottom:1839.3, x0:381.3, y0:1817.3, pxPerUnit:352.6, labelRight:339.3, labelBase:1875.5};
function xScale(frame, day){ return frame.x0 + PX_PER_DAY * day; }
function yScale(frame, value){ return frame.y0 - frame.pxPerUnit * value; }
function make(tag, attrs, parent){
  const node = document.createElementNS(SVG_NS, tag);
  for (const key in attrs) node.setAttribute(key, attrs[key]);
  parent.appendChild(node);
  return node;
}

function drawAxes(group, frame, tickValues, tickLabels){
  xTickDays.forEach(function(day, i){
    const px = xScale(frame, day);
    const tick = make('line', {x1:px, x2:px, y1:frame.bottom, y2:frame.bottom + 10.5, stroke:'#000', 'stroke-width':1.1}, group);
    
    
    const label = make('text', {x:px, y:frame.labelBase, 'font-size':28.2, 'text-anchor':'middle'}, group);
    label.textContent = xTickLabels[i];
    
    
  });
  tickValues.forEach(function(value, i){
    const py = yScale(frame, value);
    const tick = make('line', {x1:frame.left - 10.5, x2:frame.left, y1:py, y2:py, stroke:'#000', 'stroke-width':1.1}, group);
    
    
    const label = make('text', {x:frame.labelRight, y:py + 10, 'font-size':28.2, 'text-anchor':'end'}, group);
    label.textContent = tickLabels[i];
    
    
  });
}

function drawPoints(group, frame, rowSets){
  rowSets.forEach(function(rows){
    rows.forEach(function(row){
      const px = xScale(frame, row[0]);
      for (let i = 1; i < row.length; i++){
        const py = yScale(frame, row[i]);
        const dot = make('circle', {cx:px, cy:py, r:5.5, fill:'#008000', 'fill-opacity':0.5}, group);
        
        
        const dash = make('line', {x1:px - 4, x2:px + 4, y1:py, y2:py, stroke:'#ff0000', 'stroke-opacity':0.4, 'stroke-width':0.9}, group);
        
        
      }
    });
  });
}

function drawMedian(group, frame, days, values){
  const MAX_GAP = 6.5;
  let pts = [];
  function flush(){
    if (pts.length > 1){
      const path = make('polyline', {points:pts.join(' '), fill:'none', stroke:'#ff0000', 'stroke-width':11.5, 'stroke-linejoin':'round', 'stroke-linecap':'round'}, group);
      
      
    }
    pts = [];
  }
  days.forEach(function(day, i){
    if (i > 0 && Math.abs(day - days[i - 1]) > MAX_GAP) flush();
    const px = xScale(frame, day), py = yScale(frame, values[i]);
    pts.push(px + ',' + py);
    const dot = make('circle', {cx:px, cy:py, r:6, fill:'#ff0000'}, group);
    
    
  });
  flush();
}

function drawThreshold(group, frame, value){
  const py = yScale(frame, value);
  const line = make('line', {x1:frame.left, x2:frame.right, y1:py, y2:py, stroke:'#0000ff', 'stroke-width':3}, group);
  
  
}

function drawFrame(group, frame){
  const box = make('rect', {x:frame.left, y:frame.top, width:frame.right - frame.left, height:frame.bottom - frame.top, fill:'none', stroke:'#000', 'stroke-width':1.3}, group);
  
  
}

const panelA = document.getElementById('panel-a');
drawAxes(panelA, aodFrame, aodTickValues, aodTickLabels);
drawPoints(panelA, aodFrame, [aodWinter2020, aodDenseWinter2020, aodSpring2021, aodDenseSpring2021, aodSummer2021, aodDenseAutumn2021, aodWinter2021, aodDenseWinter2021, aodSpring2022, aodDenseSpring2022]);
drawMedian(panelA, aodFrame, aodMedianDays, aodMedianValues);
drawThreshold(panelA, aodFrame, aodThreshold[0]);
drawFrame(panelA, aodFrame);

const panelB = document.getElementById('panel-b');
drawAxes(panelB, aeFrame, aeTickValues, aeTickLabels);
drawPoints(panelB, aeFrame, [aeWinter2020, aeDenseWinter2020, aeSpring2021, aeDenseSpring2021, aeSummer2021, aeAutumn2021, aeDenseAutumn2021, aeWinter2021, aeDenseWinter2021, aeSpring2022, aeAutumn2022]);
drawMedian(panelB, aeFrame, aeMedianDays, aeMedianValues);
drawThreshold(panelB, aeFrame, aeThreshold[0]);
drawFrame(panelB, aeFrame);
</script>
</body>
</html>
